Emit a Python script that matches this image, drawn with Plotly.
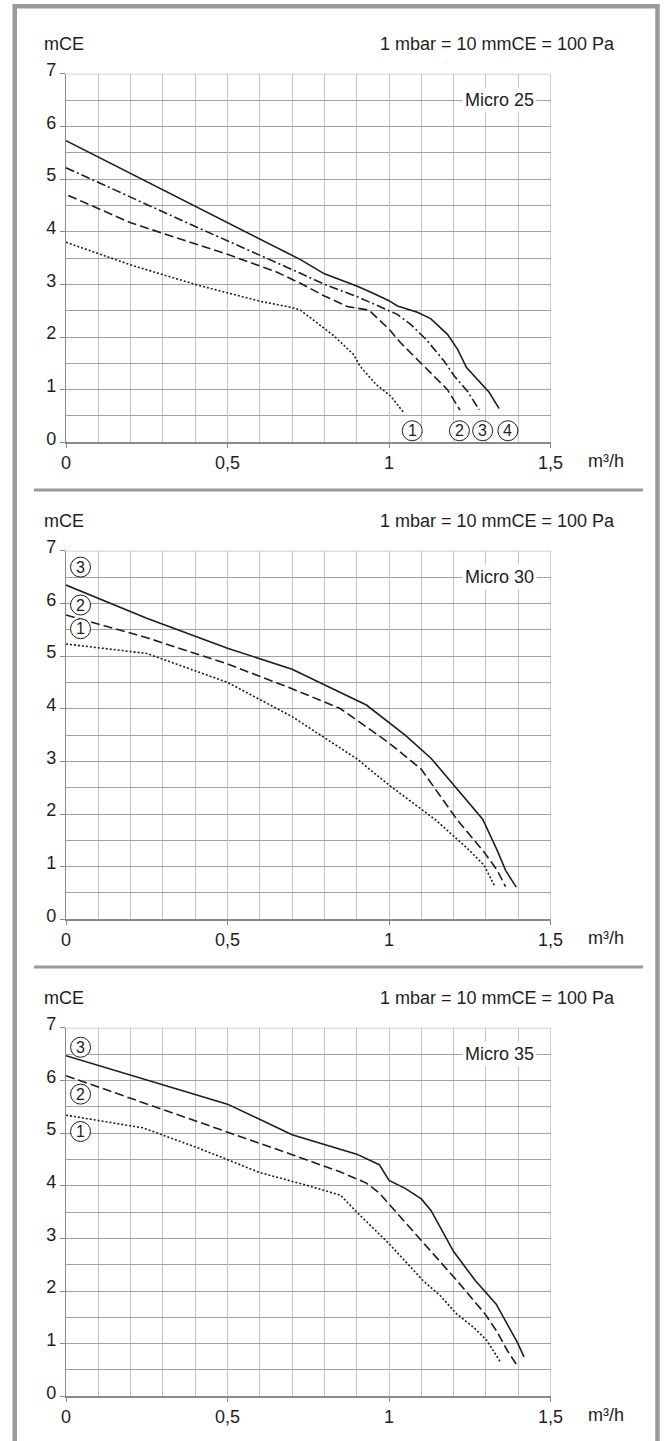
import plotly.graph_objects as go

W, H = 665, 1441

# ---------------- text ----------------
models = ["Micro 25", "Micro 30", "Micro 35"]
unit_y = "mCE"
unit_note = "1 mbar = 10 mmCE = 100 Pa"
unit_x = "m³/h"
x_tickvals = [0, 0.5, 1, 1.5]
x_ticktext = ["0", "0,5", "1", "1,5"]
y_tickvals = [0, 1, 2, 3, 4, 5, 6, 7]
y_ticktext = ["0", "1", "2", "3", "4", "5", "6", "7"]

# ---------------- data: Micro 25 ----------------
m25_c1_x = [0, 0.2, 0.4, 0.5, 0.6, 0.7, 0.726, 0.83, 0.89, 0.91, 0.96, 1.005, 1.046]
m25_c1_y = [3.80, 3.37, 3.0, 2.84, 2.68, 2.56, 2.51, 2.02, 1.67, 1.45, 1.10, 0.88, 0.56]
m25_c2_x = [0.007, 0.2, 0.3, 0.5, 0.6, 0.65, 0.726, 0.8, 0.871, 0.938, 1.0, 1.036, 1.093, 1.14, 1.181, 1.22]
m25_c2_y = [4.69, 4.17, 3.97, 3.57, 3.35, 3.24, 3.02, 2.78, 2.58, 2.51, 2.15, 1.89, 1.54, 1.26, 1.0, 0.61]
m25_c3_x = [0, 0.4, 0.726, 0.8, 0.9, 1.0, 1.026, 1.067, 1.114, 1.171, 1.202, 1.243, 1.279]
m25_c3_y = [5.215, 4.10, 3.21, 3.0, 2.77, 2.51, 2.43, 2.24, 1.96, 1.54, 1.26, 0.97, 0.62]
m25_c4_x = [0, 0.726, 0.8, 0.9, 0.951, 1.0, 1.026, 1.088, 1.129, 1.181, 1.212, 1.24, 1.31, 1.341]
m25_c4_y = [5.73, 3.47, 3.20, 2.97, 2.83, 2.69, 2.59, 2.47, 2.35, 2.05, 1.77, 1.42, 0.95, 0.64]

# ---------------- data: Micro 30 ----------------
m30_c1_x = [0, 0.25, 0.5, 0.7, 0.9, 1.0, 1.144, 1.19, 1.242, 1.294, 1.328]
m30_c1_y = [5.23, 5.05, 4.5, 3.85, 3.05, 2.55, 1.89, 1.63, 1.35, 1.03, 0.62]
m30_c2_x = [0, 0.25, 0.5, 0.7, 0.85, 1.0, 1.1, 1.211, 1.294, 1.335, 1.361]
m30_c2_y = [5.78, 5.35, 4.85, 4.38, 4.0, 3.35, 2.85, 1.89, 1.28, 0.93, 0.62]
m30_c3_x = [0, 0.25, 0.5, 0.7, 0.93, 1.05, 1.13, 1.29, 1.335, 1.361, 1.394]
m30_c3_y = [6.35, 5.72, 5.15, 4.75, 4.07, 3.5, 3.06, 1.9, 1.31, 0.93, 0.61]

# ---------------- data: Micro 35 ----------------
m35_c1_x = [0, 0.238, 0.412, 0.5, 0.6, 0.75, 0.85, 0.9, 1.0, 1.105, 1.159, 1.21, 1.262, 1.303, 1.345]
m35_c1_y = [5.34, 5.10, 4.71, 4.5, 4.25, 4.0, 3.82, 3.5, 2.9, 2.2, 1.91, 1.56, 1.31, 1.06, 0.65]
m35_c2_x = [0, 0.412, 0.5, 0.7, 0.85, 0.93, 0.97, 1.05, 1.1, 1.21, 1.298, 1.335, 1.366, 1.395]
m35_c2_y = [6.09, 5.21, 5.03, 4.59, 4.26, 4.05, 3.86, 3.3, 2.96, 2.2, 1.56, 1.22, 0.87, 0.60]
m35_c3_x = [0, 0.412, 0.5, 0.7, 0.9, 0.97, 1.0, 1.05, 1.1, 1.13, 1.2, 1.267, 1.332, 1.366, 1.397, 1.418]
m35_c3_y = [6.47, 5.71, 5.55, 4.97, 4.6, 4.4, 4.1, 3.95, 3.75, 3.53, 2.75, 2.2, 1.75, 1.37, 1.03, 0.75]

# ---------------- circled curve numbers ----------------
m25_tag_text = ["1", "2", "3", "4"]
m25_tag_x = [1.072, 1.218, 1.29, 1.368]
m25_tag_y = [0.22, 0.22, 0.22, 0.22]
m30_tag_text = ["3", "2", "1"]
m30_tag_x = [0.045, 0.045, 0.045]
m30_tag_y = [6.69, 5.97, 5.52]
m35_tag_text = ["3", "2", "1"]
m35_tag_x = [0.045, 0.045, 0.045]
m35_tag_y = [6.63, 5.74, 5.03]

# ---------------- styles ----------------
FONT = "Liberation Sans, Arial, Helvetica, sans-serif"
INK = "#1e1e1e"
DOT = "2px,2px"
DASH = "9px,4px"
DASHDOT = "9px,3px,2px,3px"

panels = [
    dict(curves=[(m25_c1_x, m25_c1_y, DOT), (m25_c2_x, m25_c2_y, DASH),
                 (m25_c3_x, m25_c3_y, DASHDOT), (m25_c4_x, m25_c4_y, "solid")],
         tags=(m25_tag_text, m25_tag_x, m25_tag_y)),
    dict(curves=[(m30_c1_x, m30_c1_y, DOT), (m30_c2_x, m30_c2_y, DASH),
                 (m30_c3_x, m30_c3_y, "solid")],
         tags=(m30_tag_text, m30_tag_x, m30_tag_y)),
    dict(curves=[(m35_c1_x, m35_c1_y, DOT), (m35_c2_x, m35_c2_y, DASH),
                 (m35_c3_x, m35_c3_y, "solid")],
         tags=(m35_tag_text, m35_tag_x, m35_tag_y)),
]

PX_X0, PX_X1 = 66.0, 550.5
PANEL_STEP = 477.0
TOP7, BOT0 = 73.8, 442.3


def py(v):
    return 1 - v / H


def px(v):
    return v / W


fig = go.Figure()
annotations = []
shapes = []
layout_axes = {}

for k, p in enumerate(panels):
    sfx = "" if k == 0 else str(k + 1)
    xa, ya = "x" + sfx, "y" + sfx
    y7 = TOP7 + PANEL_STEP * k
    y0 = BOT0 + PANEL_STEP * k

    for cx, cy, dash in p["curves"]:
        fig.add_trace(go.Scatter(
            x=cx, y=cy, mode="lines", xaxis=xa, yaxis=ya, showlegend=False,
            hoverinfo="skip",
            line=dict(color=INK, width=1.6, dash=dash)))

    layout_axes["xaxis" + sfx] = dict(
        domain=[px(PX_X0), px(PX_X1)], range=[0, 1.5], anchor=ya,
        automargin=False,
        tickmode="array", tickvals=x_tickvals, ticktext=x_ticktext,
        ticks="outside", ticklen=4, tickwidth=1, tickcolor="#8a8a8a",
        showgrid=True, gridcolor="#c4c4c4", gridwidth=1,
        minor=dict(tickmode="linear", tick0=0, dtick=0.1, showgrid=True,
                   gridcolor="#c4c4c4", gridwidth=1, ticks=""),
        showline=True, linecolor="#8a8a8a", linewidth=1.2,
        zeroline=False, fixedrange=True,
        tickfont=dict(family=FONT, size=18, color=INK))
    layout_axes["yaxis" + sfx] = dict(
        domain=[py(y0), py(y7)], range=[0, 7], anchor=xa,
        automargin=False,
        tickmode="array", tickvals=y_tickvals, ticktext=y_ticktext,
        ticks="outside", ticklen=5, tickwidth=1, tickcolor="#8a8a8a",
        showgrid=True, gridcolor="#a2a2a2", gridwidth=1,
        minor=dict(tickmode="linear", tick0=0, dtick=0.5, showgrid=True,
                   gridcolor="#a2a2a2", gridwidth=1, ticks=""),
        showline=True, linecolor="#8a8a8a", linewidth=1.2,
        zeroline=False, fixedrange=True, ticklabelshift=-4,
        tickfont=dict(family=FONT, size=18, color=INK))

    shapes.append(dict(type="line", xref=xa, yref=ya, x0=0, x1=1.5, y0=7, y1=7,
                       line=dict(color="#a2a2a2", width=1), layer="below"))
    shapes.append(dict(type="line", xref=xa, yref=ya, x0=1.5, x1=1.5, y0=0, y1=7,
                       line=dict(color="#a2a2a2", width=1), layer="below"))

    annotations.append(dict(text=unit_y, xref="paper", yref="paper",
                            x=px(42), y=py(y7 - 30), xanchor="left", yanchor="middle",
                            showarrow=False, font=dict(family=FONT, size=18, color=INK)))
    annotations.append(dict(text=unit_note, xref="paper", yref="paper",
                            x=px(617), y=py(y7 - 30), xanchor="right", yanchor="middle",
                            showarrow=False, font=dict(family=FONT, size=18, color=INK)))
    annotations.append(dict(text=unit_x, xref="paper", yref="paper",
                            x=px(586), y=py(y0 + 19), xanchor="left", yanchor="middle",
                            showarrow=False, font=dict(family=FONT, size=18, color=INK)))
    annotations.append(dict(text=models[k], xref=xa, yref=ya, x=1.343, y=6.5,
                            xanchor="center", yanchor="middle", showarrow=False,
                            bgcolor="white", borderpad=2,
                            font=dict(family=FONT, size=18, color=INK)))
    tt, tx, ty = p["tags"]
    for t, a, b in zip(tt, tx, ty):
        shapes.append(dict(type="circle", xref=xa, yref=ya,
                           xsizemode="pixel", ysizemode="pixel",
                           xanchor=a, yanchor=b, x0=-10, x1=10, y0=-10, y1=10,
                           fillcolor="white",
                           line=dict(color=INK, width=1)))
        annotations.append(dict(text=t, xref=xa, yref=ya, x=a, y=b,
                                xanchor="center", yanchor="middle", showarrow=False,
                                font=dict(family=FONT, size=16, color=INK)))

# open-bottom grey frame and panel dividers
fl, fr, ft = px(14.7), px(657.5), py(6.3)
shapes.append(dict(type="path", xref="paper", yref="paper",
                   path=f"M {fl},0 L {fl},{ft} L {fr},{ft} L {fr},0",
                   line=dict(color="#9a9a9a", width=4.5)))
for yy in [490, 967]:
    shapes.append(dict(type="line", xref="paper", yref="paper",
                       x0=px(34), x1=px(643), y0=py(yy), y1=py(yy),
                       line=dict(color="#9a9a9a", width=3)))

fig.update_layout(
    template="none",
    width=W, height=H,
    margin=dict(l=0, r=0, t=0, b=0, pad=0, autoexpand=False),
    paper_bgcolor="white", plot_bgcolor="white",
    showlegend=False, annotations=annotations, shapes=shapes,
    font=dict(family=FONT, size=18, color=INK),
    **layout_axes)

fig.write_html(
    "out.html",
    config={"displayModeBar": False, "staticPlot": True},
    post_script="document.documentElement.style.margin='0';"
                "document.body.style.margin='0';document.body.style.padding='0';"
                "document.documentElement.style.overflow='hidden';"
                "document.body.style.overflow='hidden';")
